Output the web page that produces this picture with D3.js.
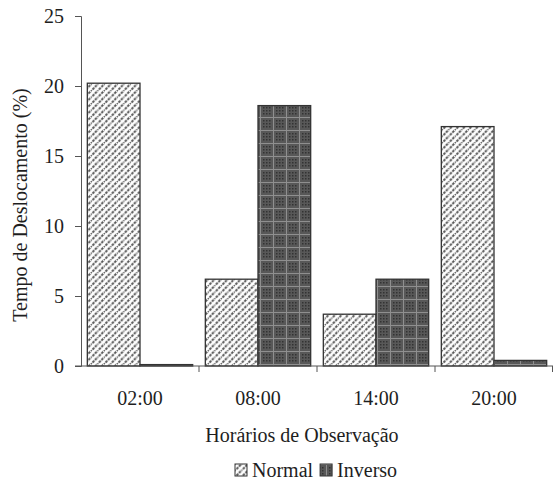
<!DOCTYPE html>
<html>
<head>
<meta charset="utf-8">
<script src="https://cdn.jsdelivr.net/npm/d3@7"></script>
<style>
  body { margin: 0; background: #fff; }
  svg text { font-family: "Liberation Serif", "Times New Roman", Times, serif; fill: #1e1e1e; }
</style>
</head>
<body>
<div id="chart"></div>
<script>
    'use strict';

    // Data
    var horarios = ["02:00", "08:00", "14:00", "20:00"];
    var normal = [20.2, 6.2, 3.7, 17.1];
    var inverso = [0.1, 18.6, 6.2, 0.4];
    var series = ["Normal", "Inverso"];
    var yTicks = [0, 5, 10, 15, 20, 25];

    var width = 553, height = 481;
    var margin = { left: 81, right: 0, top: 16, bottom: 115 };
    var fontFam = '"Liberation Serif", "Times New Roman", Times, serif';

    var svg = d3.select("#chart").append("svg")
        .attr("width", width).attr("height", height);

    // Patterns
    var defs = svg.append("defs");
    var pNormal = defs.append("pattern")
        .attr("id", "pat-normal")
        .attr("patternUnits", "userSpaceOnUse")
        .attr("width", 6.5).attr("height", 6.5);
    pNormal.append("rect").attr("width", 6.5).attr("height", 6.5).attr("fill", "#fff");
    pNormal.append("path")
        .attr("d", "M-1,7.5 L7.5,-1 M-4.25,4.25 L4.25,-4.25 M2.25,10.75 L10.75,2.25")
        .attr("stroke", "#555").attr("stroke-width", 2)
        .attr("stroke-dasharray", "2.5,1");

    var pInv = defs.append("pattern")
        .attr("id", "pat-inverso")
        .attr("patternUnits", "userSpaceOnUse")
        .attr("width", 13).attr("height", 13);
    pInv.append("rect").attr("width", 13).attr("height", 13).attr("fill", "#585858");
    pInv.append("path")
        .attr("d", "M0,0.5 H13 M0.5,0 V13")
        .attr("stroke", "#8f8f8f").attr("stroke-width", 1);
    [3, 6, 9].forEach(function(a) {
        [3, 6, 9].forEach(function(b) {
            pInv.append("rect").attr("x", a).attr("y", b)
                .attr("width", 1.5).attr("height", 1.5).attr("fill", "#333");
        });
    });

    // Scales
    var x = d3.scaleBand().domain(horarios)
        .range([margin.left, width - margin.right])
        .paddingInner(0).paddingOuter(0);
    var xs = d3.scaleBand().domain(series)
        .range([0, x.bandwidth()])
        .paddingOuter(0.12).paddingInner(0);
    var y = d3.scaleLinear().domain([0, 25])
        .range([height - margin.bottom, margin.top]);

    var colors = { Normal: "url(#pat-normal)", Inverso: "url(#pat-inverso)" };
    var values = { Normal: normal, Inverso: inverso };

    // Bars
    var g = svg.append("g");
    series.forEach(function(s) {
        g.selectAll(".bar-" + s).data(horarios).enter().append("rect")
            .attr("class", "bar-" + s)
            .attr("x", function(d) { return x(d) + xs(s); })
            .attr("width", xs.bandwidth())
            .attr("y", function(d, i) { return y(values[s][i]); })
            .attr("height", function(d, i) { return y(0) - y(values[s][i]); })
            .attr("fill", colors[s])
            .attr("stroke", "#333").attr("stroke-width", 1.3);
    });

    // Y axis
    var yAxis = d3.axisLeft(y).tickValues(yTicks).tickSize(6).tickPadding(11);
    var gy = svg.append("g").attr("transform", "translate(" + margin.left + ",0)").call(yAxis);
    gy.attr("font-family", fontFam);
    gy.select(".domain").attr("stroke", "#555");
    gy.selectAll(".tick line").attr("stroke", "#555");
    gy.selectAll("text").style("font-size", "20px").attr("fill", "#1e1e1e");

    // X axis
    var gx = svg.append("g").attr("transform", "translate(0," + y(0) + ")");
    gx.append("line")
        .attr("x1", margin.left - 6).attr("x2", width)
        .attr("stroke", "#555");
    var xEdges = horarios.map(function(d) { return x(d) + x.bandwidth(); });
    gx.selectAll(".xt").data(xEdges).enter().append("line")
        .attr("x1", function(d) { return Math.min(d, width - 0.5); })
        .attr("x2", function(d) { return Math.min(d, width - 0.5); })
        .attr("y1", 0).attr("y2", 6).attr("stroke", "#555");
    gx.selectAll(".xl").data(horarios).enter().append("text")
        .attr("x", function(d) { return x(d) + x.bandwidth() / 2; })
        .attr("y", 39)
        .attr("text-anchor", "middle")
        .style("font-size", "20px")
        .text(function(d) { return d; });

    // Titles
    svg.append("text")
        .attr("x", 302).attr("y", 442)
        .attr("text-anchor", "middle")
        .style("font-size", "20px")
        .text("Horários de Observação");
    svg.append("text")
        .attr("transform", "translate(27," + ((margin.top + y(0)) / 2 + 14) + ") rotate(-90)")
        .attr("text-anchor", "middle")
        .style("font-size", "20px")
        .text("Tempo de Deslocamento (%)");

    // Legend
    var legend = svg.append("g").attr("transform", "translate(235,464)");
    var lx = 0;
    series.forEach(function(s) {
        legend.append("rect")
            .attr("x", lx).attr("y", 0).attr("width", 12).attr("height", 12)
            .attr("fill", colors[s]).attr("stroke", "#333");
        var t = legend.append("text")
            .attr("x", lx + 17).attr("y", 13)
            .style("font-size", "20px")
            .text(s);
        lx += 17 + t.node().getComputedTextLength() + 7;
    });
</script>
</body>
</html>
